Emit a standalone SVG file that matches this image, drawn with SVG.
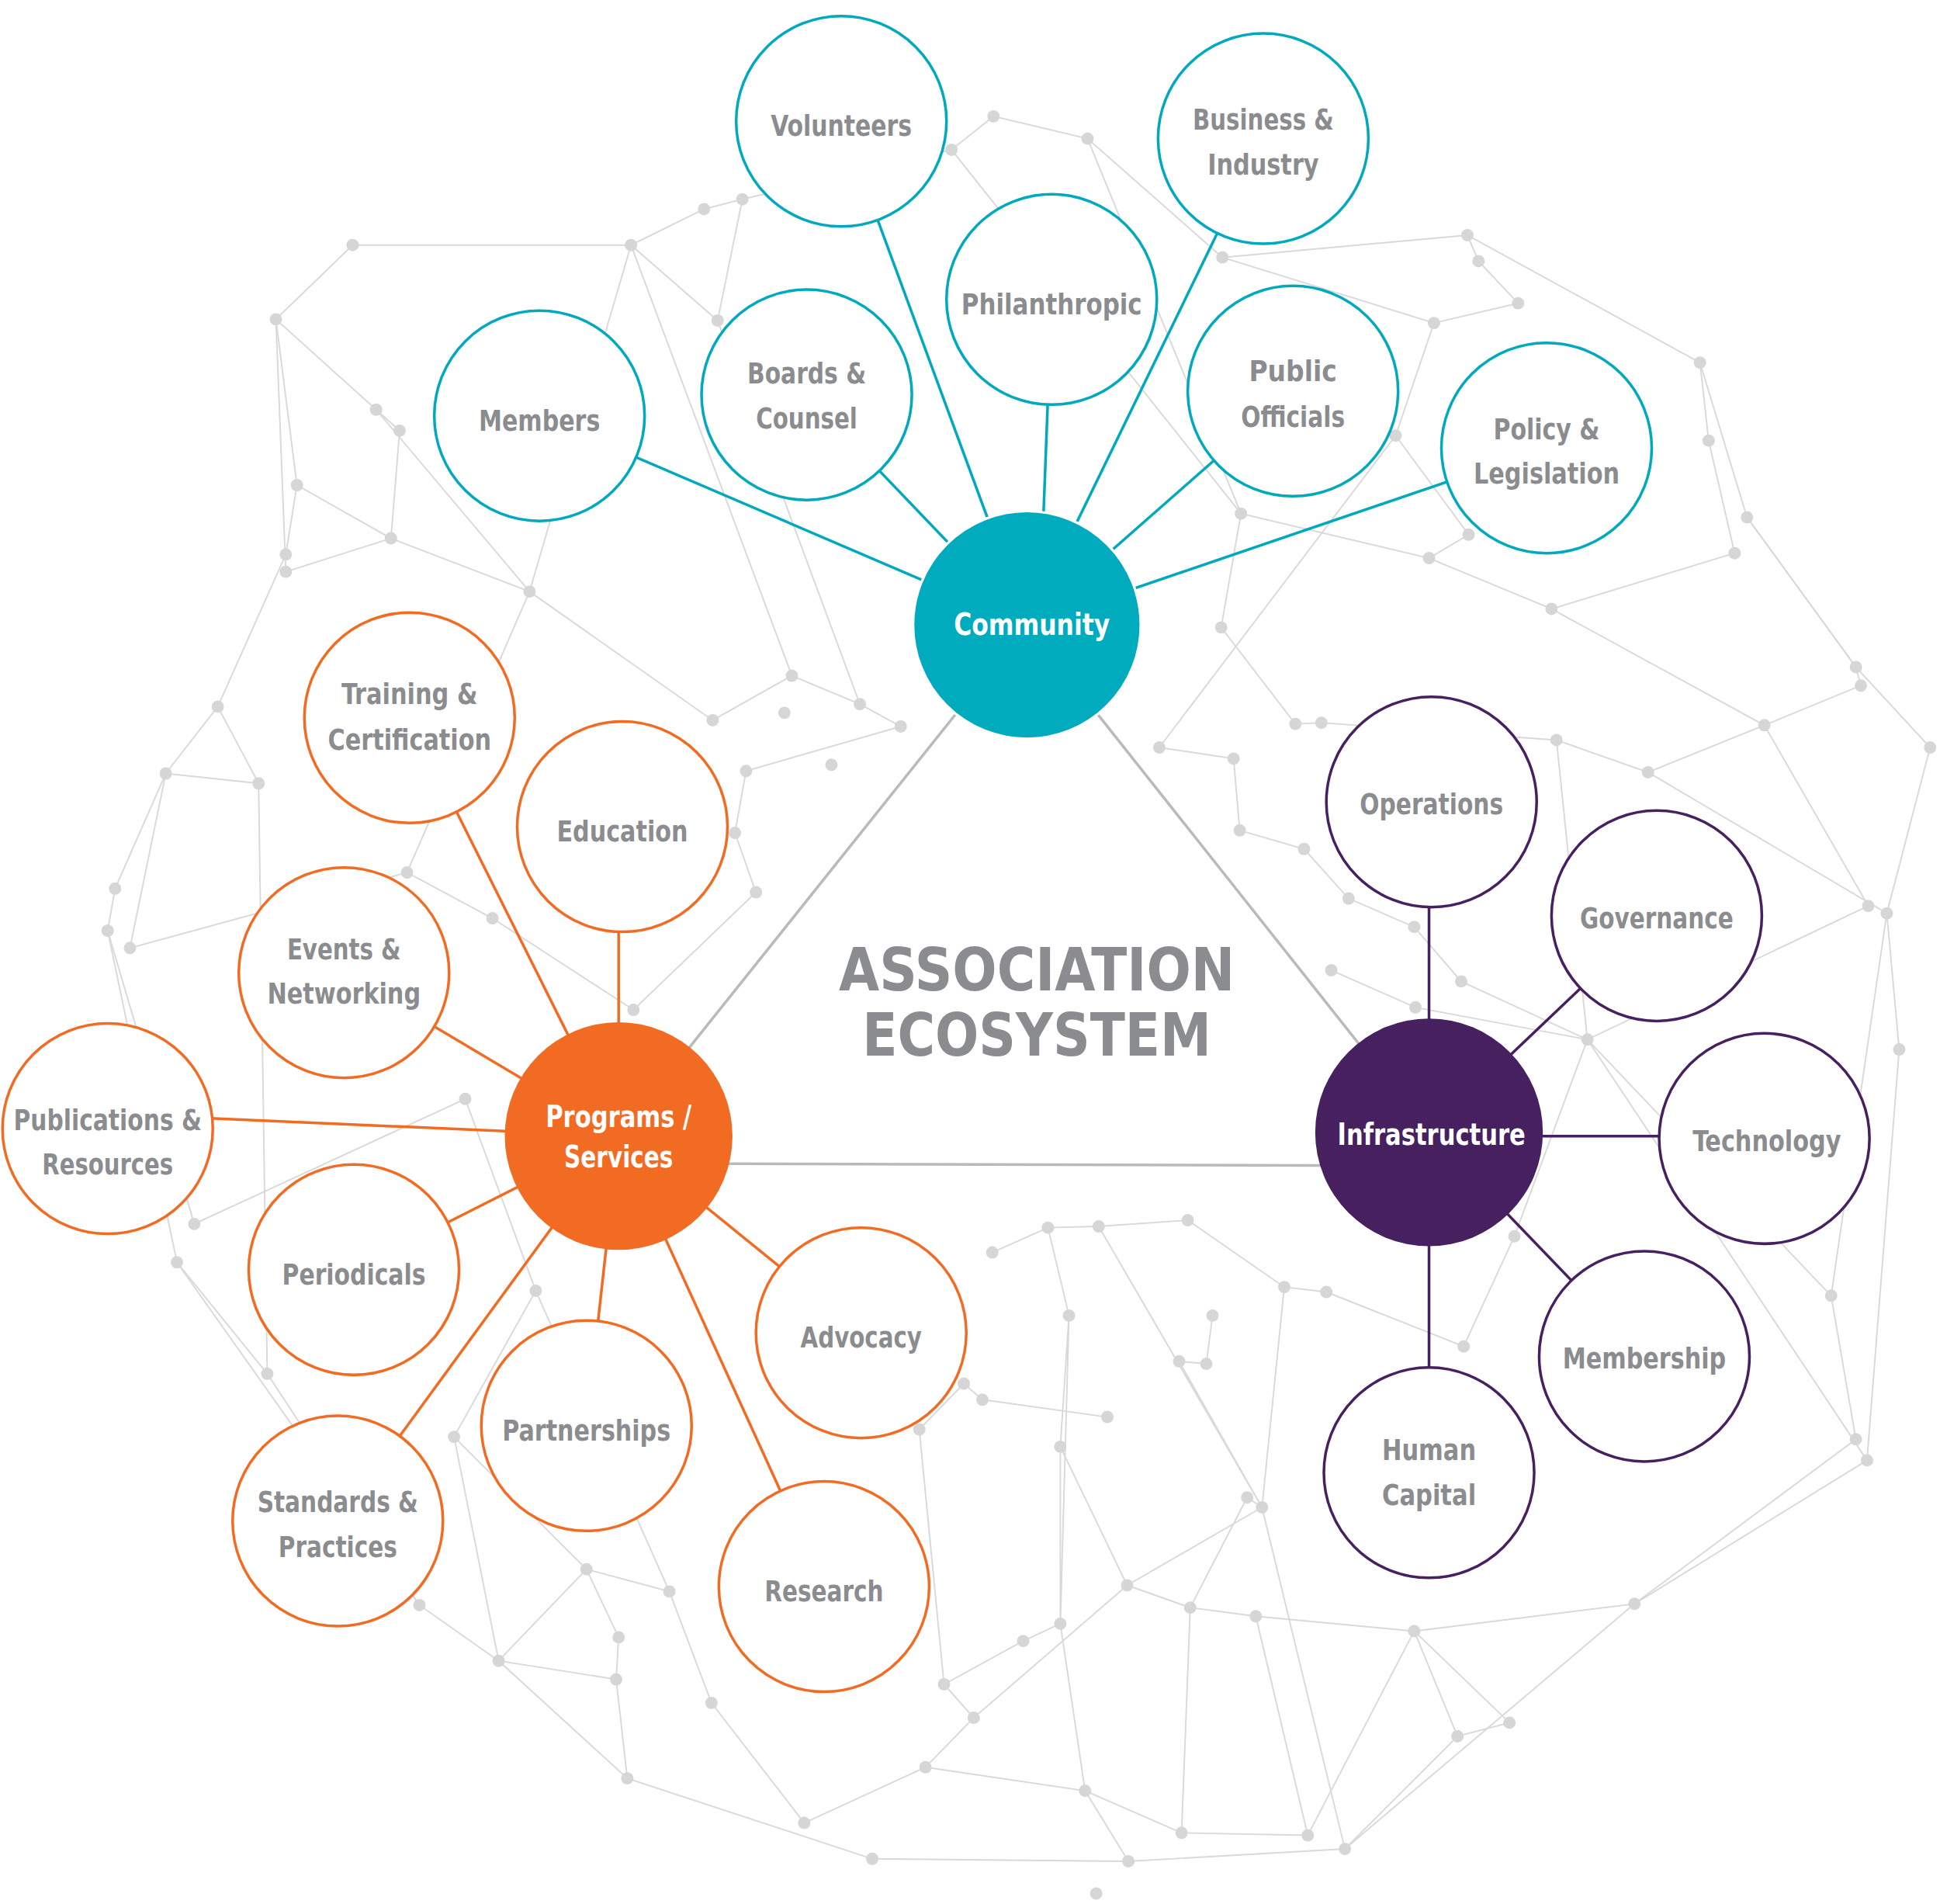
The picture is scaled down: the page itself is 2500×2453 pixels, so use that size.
<svg xmlns="http://www.w3.org/2000/svg" width="2500" height="2453" viewBox="0 0 2500 2453">
<style>
.bg{fill:none;stroke:#d9d9d9;stroke-width:1.2}
.dot{fill:#d6d6d6}
.sat{fill:#fff;stroke-width:2.2}
.c{stroke:#00a9bd}.o{stroke:#f26b23}.p{stroke:#472060}
.lbl{font-family:"DejaVu Sans Condensed","DejaVu Sans",sans-serif;font-weight:bold;font-size:23px;fill:#8b8c8f;text-anchor:middle}
.hub{font-family:"DejaVu Sans Condensed","DejaVu Sans",sans-serif;font-weight:bold;font-size:24px;fill:#fff;text-anchor:middle}
.ttl{font-family:"DejaVu Sans","Liberation Sans",sans-serif;font-weight:bold;font-size:48px;fill:#8b8c8f;text-anchor:middle}
</style>
<rect width="2500" height="2453" fill="#fff"/>
<g transform="scale(1.5944)">
<g id="network">
<path class="bg" d="M285,198 L510,198 L569,169 L600,161 L769,121 L803,94 L879,112 L988,208 L1186,190 L1374,293 L1412,418 L1500,539 L1560,604 L1525,738 L1535,848 L1509,1180 L1321,1296 L1087,1494 L912,1504 L705,1502 L507,1437 L403,1342 L339,1297 L216,1110 L143,1020 L87,752 L93,718 L134,625 L176,571 L231,448 L240,392 L223,258 L285,198"/>
<path class="bg" d="M223,258 L304,331 L323,348 L316,435 L428,478 L576,582 L640,546 L695,569 L728,587 L603,623 L594,673 L611,721 L512,816 M580,259 L510,198 L428,478 L329,705 L398,742 L512,816 M231,462 L316,435 L240,392 M209,633 L134,625 L105,766 L329,705 M176,571 L209,633 L216,1110 M87,752 L157,989 L376,888 L433,1043 L367,1161 L474,1268 L541,1286 L575,1376 L650,1473 L748,1428 L877,1447 L955,1481 L1057,1483 L1143,1318 L1220,1392 L1178,1403 L1087,1494"/>
<path class="bg" d="M1159,261 L1227,245 L1195,211 L1186,190 M1128,352 L1187,432 L1155,451 L1254,492 L1402,447 L1381,356 L1374,293 M1003,415 L987,507 L1047,585 L1068,584 L1258,598 L1332,624 L1426,586 L1504,554 L1500,539 M937,604 L997,613 L1002,671 L1054,686 L1090,726 L1143,749 L1181,793 L1283,840 L1510,732 L1426,586 L1254,492 L1155,451 L1003,415 L879,112 M1076,784 L1144,814 L1283,840 L1480,1047 L1500,1163 L1321,1296 M1183,1088 L1224,999 L1283,840 M1525,738 L1480,1047"/>
<path class="bg" d="M802,1012 L847,992 L888,991 L960,986 L1038,1040 L1072,1044 L1183,1088 M864,1063 L857,1169 L911,1281 L962,1299 L1015,1306 L1143,1318 L1321,1296 M980,1063 L975,1102 L953,1100 L1020,1218 L1008,1210 L962,1299 L955,1481 M857,1169 L857,1312 L827,1326 L763,1361 L787,1388 L748,1428 M895,1145 L794,1131 L779,1118 L743,1155 L763,1361 M888,991 L1020,1218 L1087,1494 M847,992 L864,1063 L857,1312 L877,1447 L912,1504 M498,1357 L500,1323 L474,1268 L403,1342 L498,1357 L507,1437 M1015,1306 L1057,1483 M1143,1318 L1178,1403 M1038,1040 L1020,1218 L911,1281 L787,1388"/>
<path class="bg" d="M769,121 L1003,415 M600,161 L580,259 L695,569 M510,198 L640,546 M223,258 L231,462 M304,331 L428,478 M1128,352 L937,604 M988,208 L1159,261 L1128,352 M1412,418 L1500,539 M1332,624 L1525,738 M1258,598 L1283,840 M143,1020 L339,1297 M367,1161 L403,1342 M433,1043 L541,1286 M1509,1180 L1283,840"/>
<g class="dot">
<circle cx="803" cy="94" r="5"/><circle cx="879" cy="112" r="5"/><circle cx="769" cy="121" r="5"/><circle cx="600" cy="161" r="5"/><circle cx="569" cy="169" r="5"/><circle cx="510" cy="198" r="5"/><circle cx="285" cy="198" r="5"/><circle cx="223" cy="258" r="5"/><circle cx="580" cy="259" r="5"/><circle cx="304" cy="331" r="5"/><circle cx="323" cy="348" r="5"/><circle cx="240" cy="392" r="5"/><circle cx="316" cy="435" r="5"/><circle cx="231" cy="448" r="5"/><circle cx="231" cy="462" r="5"/><circle cx="428" cy="478" r="5"/><circle cx="176" cy="571" r="5"/><circle cx="134" cy="625" r="5"/><circle cx="209" cy="633" r="5"/><circle cx="93" cy="718" r="5"/><circle cx="87" cy="752" r="5"/><circle cx="105" cy="766" r="5"/><circle cx="329" cy="705" r="5"/><circle cx="398" cy="742" r="5"/><circle cx="640" cy="546" r="5"/><circle cx="634" cy="576" r="5"/><circle cx="576" cy="582" r="5"/><circle cx="695" cy="569" r="5"/><circle cx="728" cy="587" r="5"/><circle cx="603" cy="623" r="5"/><circle cx="672" cy="618" r="5"/><circle cx="594" cy="673" r="5"/><circle cx="611" cy="721" r="5"/><circle cx="512" cy="816" r="5"/><circle cx="1186" cy="190" r="5"/><circle cx="1195" cy="211" r="5"/><circle cx="1227" cy="245" r="5"/><circle cx="1159" cy="261" r="5"/><circle cx="988" cy="208" r="5"/><circle cx="1374" cy="293" r="5"/><circle cx="1381" cy="356" r="5"/><circle cx="1412" cy="418" r="5"/><circle cx="1402" cy="447" r="5"/><circle cx="1187" cy="432" r="5"/><circle cx="1155" cy="451" r="5"/><circle cx="1254" cy="492" r="5"/><circle cx="1128" cy="352" r="5"/><circle cx="1003" cy="415" r="5"/><circle cx="987" cy="507" r="5"/><circle cx="937" cy="604" r="5"/><circle cx="997" cy="613" r="5"/><circle cx="1047" cy="585" r="5"/><circle cx="1068" cy="584" r="5"/><circle cx="1258" cy="598" r="5"/><circle cx="1332" cy="624" r="5"/><circle cx="1426" cy="586" r="5"/><circle cx="1500" cy="539" r="5"/><circle cx="1504" cy="554" r="5"/><circle cx="1560" cy="604" r="5"/><circle cx="1002" cy="671" r="5"/><circle cx="1054" cy="686" r="5"/><circle cx="1090" cy="726" r="5"/><circle cx="1076" cy="784" r="5"/><circle cx="1143" cy="749" r="5"/><circle cx="1144" cy="814" r="5"/><circle cx="1181" cy="793" r="5"/><circle cx="1283" cy="840" r="5"/><circle cx="1510" cy="732" r="5"/><circle cx="1525" cy="738" r="5"/><circle cx="1535" cy="848" r="5"/><circle cx="1480" cy="1047" r="5"/><circle cx="1500" cy="1163" r="5"/><circle cx="1509" cy="1180" r="5"/><circle cx="1321" cy="1296" r="5"/><circle cx="1220" cy="1392" r="5"/><circle cx="1178" cy="1403" r="5"/><circle cx="1143" cy="1318" r="5"/><circle cx="1183" cy="1088" r="5"/><circle cx="1224" cy="999" r="5"/><circle cx="1087" cy="1494" r="5"/><circle cx="1057" cy="1483" r="5"/><circle cx="955" cy="1481" r="5"/><circle cx="912" cy="1504" r="5"/><circle cx="886" cy="1530" r="5"/><circle cx="877" cy="1447" r="5"/><circle cx="748" cy="1428" r="5"/><circle cx="705" cy="1502" r="5"/><circle cx="650" cy="1473" r="5"/><circle cx="507" cy="1437" r="5"/><circle cx="575" cy="1376" r="5"/><circle cx="498" cy="1357" r="5"/><circle cx="500" cy="1323" r="5"/><circle cx="403" cy="1342" r="5"/><circle cx="339" cy="1297" r="5"/><circle cx="474" cy="1268" r="5"/><circle cx="541" cy="1286" r="5"/><circle cx="367" cy="1161" r="5"/><circle cx="433" cy="1043" r="5"/><circle cx="216" cy="1110" r="5"/><circle cx="143" cy="1020" r="5"/><circle cx="157" cy="989" r="5"/><circle cx="376" cy="888" r="5"/><circle cx="802" cy="1012" r="5"/><circle cx="847" cy="992" r="5"/><circle cx="888" cy="991" r="5"/><circle cx="960" cy="986" r="5"/><circle cx="864" cy="1063" r="5"/><circle cx="980" cy="1063" r="5"/><circle cx="975" cy="1102" r="5"/><circle cx="953" cy="1100" r="5"/><circle cx="1038" cy="1040" r="5"/><circle cx="1072" cy="1044" r="5"/><circle cx="1020" cy="1218" r="5"/><circle cx="911" cy="1281" r="5"/><circle cx="962" cy="1299" r="5"/><circle cx="1015" cy="1306" r="5"/><circle cx="857" cy="1312" r="5"/><circle cx="827" cy="1326" r="5"/><circle cx="763" cy="1361" r="5"/><circle cx="787" cy="1388" r="5"/><circle cx="857" cy="1169" r="5"/><circle cx="895" cy="1145" r="5"/><circle cx="794" cy="1131" r="5"/><circle cx="779" cy="1118" r="5"/><circle cx="743" cy="1155" r="5"/><circle cx="1008" cy="1210" r="5"/>
</g>
</g>
<g id="connectors" stroke-width="2.2">
<g stroke="#b9babc"><line x1="830" y1="505" x2="500" y2="918"/><line x1="830" y1="505" x2="1155" y2="915"/><line x1="500" y1="940" x2="1155" y2="942"/></g>
<g stroke="#00a9bd"><line x1="830" y1="505" x2="680" y2="98"/><line x1="830" y1="505" x2="1021" y2="112"/><line x1="840" y1="505" x2="850" y2="242"/><line x1="830" y1="505" x2="652" y2="319"/><line x1="830" y1="505" x2="1045" y2="316"/><line x1="830" y1="505" x2="436" y2="336"/><line x1="830" y1="505" x2="1250" y2="362"/></g>
<g stroke="#f26b23"><line x1="500" y1="918" x2="331" y2="580"/><line x1="500" y1="918" x2="500" y2="668"/><line x1="500" y1="918" x2="278" y2="786"/><line x1="500" y1="918" x2="87" y2="900"/><line x1="500" y1="918" x2="286" y2="1026"/><line x1="500" y1="918" x2="474" y2="1152"/><line x1="500" y1="918" x2="696" y2="1077"/><line x1="500" y1="918" x2="273" y2="1229"/><line x1="500" y1="918" x2="666" y2="1282"/></g>
<g stroke="#472060"><line x1="1155" y1="915" x2="1155" y2="648"/><line x1="1155" y1="915" x2="1339" y2="740"/><line x1="1155" y1="918" x2="1426" y2="918"/><line x1="1155" y1="915" x2="1329" y2="1096"/><line x1="1155" y1="915" x2="1155" y2="1190"/></g>
</g>
<g id="title"><text class="ttl" x="838" y="800" textLength="320" lengthAdjust="spacingAndGlyphs">ASSOCIATION</text><text class="ttl" x="838" y="853" textLength="282" lengthAdjust="spacingAndGlyphs">ECOSYSTEM</text></g>
<g id="community"><circle cx="830" cy="505" r="92" fill="#00abbd" stroke="#fff" stroke-width="2"/><text class="hub" x="834" y="513" textLength="126" lengthAdjust="spacingAndGlyphs">Community</text></g>
<g id="programs"><circle cx="500" cy="918" r="92" fill="#f26b23"/><text class="hub" x="500" y="911" textLength="118" lengthAdjust="spacingAndGlyphs">Programs /</text><text class="hub" x="500" y="943" textLength="88" lengthAdjust="spacingAndGlyphs">Services</text></g>
<g id="infrastructure"><circle cx="1155" cy="915" r="92" fill="#472060"/><text class="hub" x="1157" y="925" textLength="152" lengthAdjust="spacingAndGlyphs">Infrastructure</text></g>
<g id="volunteers"><circle class="sat c" cx="680" cy="98" r="85"/><text class="lbl" x="680" y="110" textLength="114" lengthAdjust="spacingAndGlyphs">Volunteers</text></g>
<g id="business"><circle class="sat c" cx="1021" cy="112" r="85"/><text class="lbl" x="1021" y="105" textLength="114" lengthAdjust="spacingAndGlyphs">Business &amp;</text><text class="lbl" x="1021" y="141" textLength="90" lengthAdjust="spacingAndGlyphs">Industry</text></g>
<g id="philanthropic"><circle class="sat c" cx="850" cy="242" r="85"/><text class="lbl" x="850" y="254" textLength="146" lengthAdjust="spacingAndGlyphs">Philanthropic</text></g>
<g id="boards"><circle class="sat c" cx="652" cy="319" r="85"/><text class="lbl" x="652" y="310" textLength="96" lengthAdjust="spacingAndGlyphs">Boards &amp;</text><text class="lbl" x="652" y="346" textLength="82" lengthAdjust="spacingAndGlyphs">Counsel</text></g>
<g id="public"><circle class="sat c" cx="1045" cy="316" r="85"/><text class="lbl" x="1045" y="308">Public</text><text class="lbl" x="1045" y="345" textLength="84" lengthAdjust="spacingAndGlyphs">Officials</text></g>
<g id="members"><circle class="sat c" cx="436" cy="336" r="85"/><text class="lbl" x="436" y="348" textLength="98" lengthAdjust="spacingAndGlyphs">Members</text></g>
<g id="policy"><circle class="sat c" cx="1250" cy="362" r="85"/><text class="lbl" x="1250" y="355" textLength="86" lengthAdjust="spacingAndGlyphs">Policy &amp;</text><text class="lbl" x="1250" y="391" textLength="118" lengthAdjust="spacingAndGlyphs">Legislation</text></g>
<g id="training"><circle class="sat o" cx="331" cy="580" r="85"/><text class="lbl" x="331" y="569" textLength="110" lengthAdjust="spacingAndGlyphs">Training &amp;</text><text class="lbl" x="331" y="606" textLength="132" lengthAdjust="spacingAndGlyphs">Certification</text></g>
<g id="education"><circle class="sat o" cx="503" cy="668" r="85"/><text class="lbl" x="503" y="680" textLength="106" lengthAdjust="spacingAndGlyphs">Education</text></g>
<g id="events"><circle class="sat o" cx="278" cy="786" r="85"/><text class="lbl" x="278" y="775" textLength="92" lengthAdjust="spacingAndGlyphs">Events &amp;</text><text class="lbl" x="278" y="811" textLength="124" lengthAdjust="spacingAndGlyphs">Networking</text></g>
<g id="publications"><circle class="sat o" cx="87" cy="912" r="85"/><text class="lbl" x="87" y="913" textLength="152" lengthAdjust="spacingAndGlyphs">Publications &amp;</text><text class="lbl" x="87" y="949" textLength="106" lengthAdjust="spacingAndGlyphs">Resources</text></g>
<g id="periodicals"><circle class="sat o" cx="286" cy="1026" r="85"/><text class="lbl" x="286" y="1038" textLength="116" lengthAdjust="spacingAndGlyphs">Periodicals</text></g>
<g id="partnerships"><circle class="sat o" cx="474" cy="1152" r="85"/><text class="lbl" x="474" y="1164" textLength="136" lengthAdjust="spacingAndGlyphs">Partnerships</text></g>
<g id="advocacy"><circle class="sat o" cx="696" cy="1077" r="85"/><text class="lbl" x="696" y="1089" textLength="98" lengthAdjust="spacingAndGlyphs">Advocacy</text></g>
<g id="standards"><circle class="sat o" cx="273" cy="1229" r="85"/><text class="lbl" x="273" y="1222" textLength="130" lengthAdjust="spacingAndGlyphs">Standards &amp;</text><text class="lbl" x="273" y="1258" textLength="96" lengthAdjust="spacingAndGlyphs">Practices</text></g>
<g id="research"><circle class="sat o" cx="666" cy="1282" r="85"/><text class="lbl" x="666" y="1294" textLength="96" lengthAdjust="spacingAndGlyphs">Research</text></g>
<g id="operations"><circle class="sat p" cx="1157" cy="648" r="85"/><text class="lbl" x="1157" y="658" textLength="116" lengthAdjust="spacingAndGlyphs">Operations</text></g>
<g id="governance"><circle class="sat p" cx="1339" cy="740" r="85"/><text class="lbl" x="1339" y="750" textLength="124" lengthAdjust="spacingAndGlyphs">Governance</text></g>
<g id="technology"><circle class="sat p" cx="1426" cy="920" r="85"/><text class="lbl" x="1428" y="930" textLength="120" lengthAdjust="spacingAndGlyphs">Technology</text></g>
<g id="membership"><circle class="sat p" cx="1329" cy="1096" r="85"/><text class="lbl" x="1329" y="1106" textLength="132" lengthAdjust="spacingAndGlyphs">Membership</text></g>
<g id="human"><circle class="sat p" cx="1155" cy="1190" r="85"/><text class="lbl" x="1155" y="1180" textLength="76" lengthAdjust="spacingAndGlyphs">Human</text><text class="lbl" x="1155" y="1216" textLength="76" lengthAdjust="spacingAndGlyphs">Capital</text></g>
</g>
</svg>
